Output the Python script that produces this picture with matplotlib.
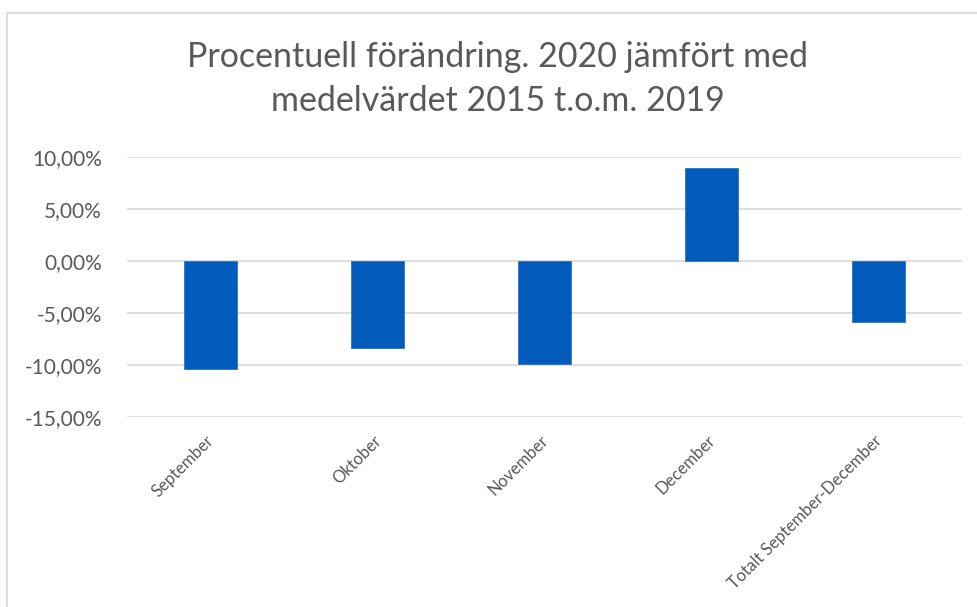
import matplotlib
matplotlib.use("Agg")
import matplotlib.pyplot as plt
from matplotlib.ticker import FuncFormatter, MultipleLocator
from matplotlib.patches import Rectangle
import matplotlib.transforms as mtransforms

categories = ["September", "Oktober", "November", "December", "Totalt September-December"]
values = [-0.104, -0.084, -0.099, 0.0895, -0.059]
title = "Procentuell förändring. 2020 jämfört med\nmedelvärdet 2015 t.o.m. 2019"

W, H = 978, 607
fig = plt.figure(figsize=(W / 100, H / 100), dpi=100)
plt.rcParams['font.family'] = ['Lato', 'DejaVu Sans']

# outer chart border (light gray), cut off at right/bottom
fig.patches.append(Rectangle((7.5 / W, -0.1), 1.2, 1.1 - 12.5 / H, transform=fig.transFigure,
                             fill=False, edgecolor='#d9d9d9', linewidth=1.3))

ax = fig.add_axes([127 / W, 1 - 417 / H, (962 - 127) / W, (417 - 157) / H])
x = list(range(len(categories)))
ax.bar(x, values, width=0.314, color='#005BBB', edgecolor='#2f72c4', linewidth=0.6, zorder=3)
ax.set_xlim(-0.5, len(categories) - 0.5)
ax.set_ylim(-0.15, 0.10)
ax.yaxis.set_major_locator(MultipleLocator(0.05))
ax.yaxis.set_major_formatter(FuncFormatter(lambda v, p: (f"{v*100:.2f}%").replace('.', ',').replace('-0,00', '0,00')))
ax.grid(axis='y', color='#d9d9d9', linewidth=1.2, zorder=0)
for s in ax.spines.values():
    s.set_visible(False)
ax.tick_params(axis='both', length=0, colors='#595959')
ax.tick_params(axis='y', labelsize=15, pad=18)
ax.set_xticks(x)
ax.set_xticklabels(categories, rotation=45, ha='right', va='center', rotation_mode='anchor',
                   fontsize=12, color='#595959')
ax.tick_params(axis='x', pad=15)
offset = mtransforms.ScaledTranslation(1 / 100, 0, fig.dpi_scale_trans)
for lbl in ax.get_xticklabels():
    lbl.set_transform(lbl.get_transform() + offset)

fig.text(498 / W, 1 - 79 / H, title, ha='center', va='center', fontsize=24.5,
         color='#595959', linespacing=1.48)

fig.savefig("out.png", dpi=100)
